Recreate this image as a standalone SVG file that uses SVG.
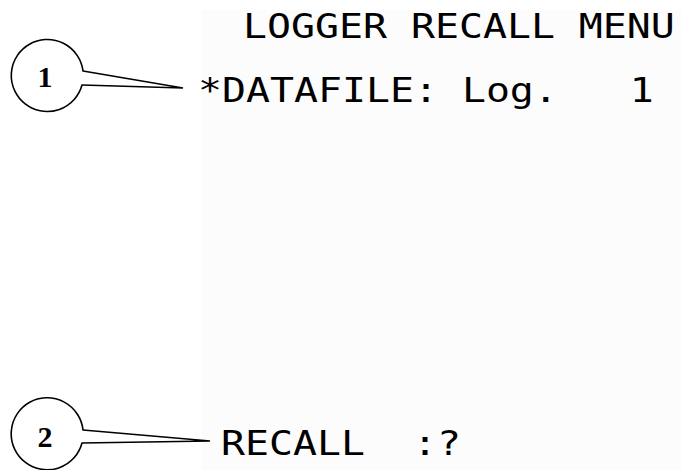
<svg xmlns="http://www.w3.org/2000/svg" width="681" height="470" viewBox="0 0 681 470">
  <style>
    .lcd { font-family: "DejaVu Sans Mono", "Liberation Mono", monospace; font-size: 33px; fill: #000; }
    .num { font-family: "Liberation Serif", "Times New Roman", serif; font-weight: bold; font-size: 30px; fill: #000; text-anchor: middle; }
    .ring { fill: none; stroke: #000; stroke-width: 1.6; }
    .tail { fill: none; stroke: #000; stroke-width: 1.6; stroke-linejoin: miter; stroke-linecap: round; }
  </style>

  <rect width="681" height="470" fill="#ffffff"/>
  <!-- display screen area -->
  <rect id="screen" x="201" y="10" width="480" height="460" fill="#fcfcfc"/>

  <!-- display lines -->
  <g id="title-line">
    <text class="lcd" xml:space="preserve" transform="translate(243,38) scale(1.208,1)">LOGGER RECALL MENU</text>
  </g>
  <g id="datafile-line">
    <text class="lcd" xml:space="preserve" transform="translate(198,102) scale(1.208,1)">*DATAFILE: Log.   1</text>
  </g>
  <g id="recall-line">
    <text class="lcd" xml:space="preserve" transform="translate(221,455) scale(1.208,1)">RECALL  :?</text>
  </g>

  <!-- numbered callout bubbles -->
  <g id="callout-1">
    <path class="ring" d="M82,85 A36,36 0 1 1 83,71"/>
    <text class="num" x="45" y="87">1</text>
  </g>
  <g id="callout-2">
    <path class="ring" d="M82,443 A36,36 0 1 1 83,430"/>
    <text class="num" x="45" y="447">2</text>
  </g>

  <!-- pointer tails -->
  <g id="connectors">
    <path class="tail" d="M83,71 L183,88 L82,85"/>
    <path class="tail" d="M83,430 L210,441 L82,443"/>
  </g>
</svg>
